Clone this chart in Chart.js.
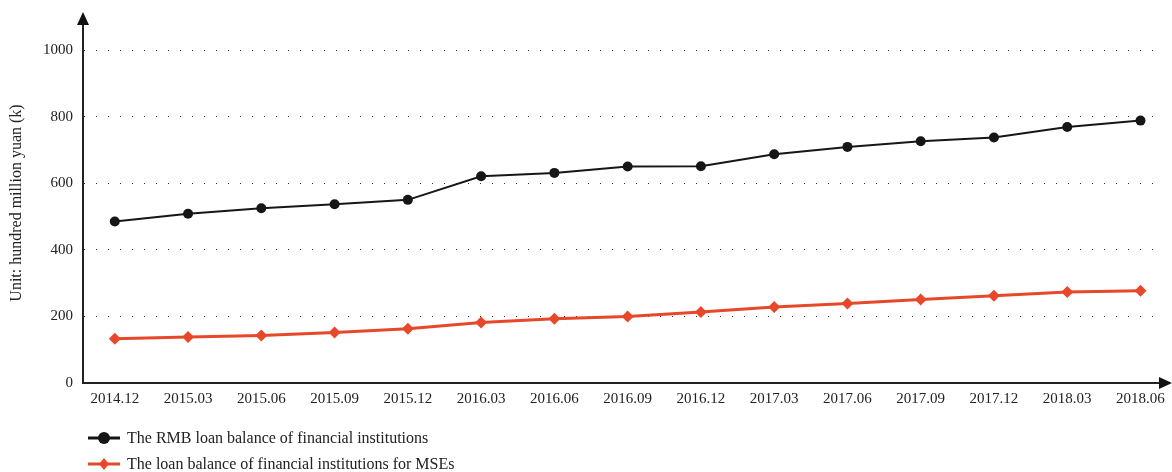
<!DOCTYPE html>
<html>
<head>
<meta charset="utf-8">
<script src="https://cdn.jsdelivr.net/npm/chart.js@4/dist/chart.umd.min.js"></script>
<style>
  html, body { margin: 0; padding: 0; background: #fff; }
  #wrap { position: relative; width: 1172px; height: 472px; }
  #legend { position: absolute; left: 88px; top: 425px; font-family: "Liberation Serif", "DejaVu Serif", serif; font-size: 16px; color: #222; }
  .item { display: flex; align-items: center; height: 26px; }
  .item svg { margin-right: 7px; }
</style>
</head>
<body>
<div id="wrap">
  <canvas id="c" width="1172" height="472"></canvas>
  <div id="legend"></div>
</div>
<script>
const categories = ["2014.12","2015.03","2015.06","2015.09","2015.12","2016.03","2016.06","2016.09","2016.12","2017.03","2017.06","2017.09","2017.12","2018.03","2018.06"];
const rmbLoanBalance = [485, 508, 525, 537, 550, 621, 631, 650, 651, 687, 709, 726, 737, 769, 788];
const mseLoanBalance = [133, 138, 143, 152, 163, 182, 193, 200, 213, 228, 239, 251, 262, 273, 277];
const yTicks = [0, 200, 400, 600, 800, 1000];
const seriesNames = ["The RMB loan balance of financial institutions", "The loan balance of financial institutions for MSEs"];
const yTitle = "Unit: hundred million yuan (k)";

const BLACK = "#161616";
const RED = "#e8482a";
const FONT = '"Liberation Serif", "DejaVu Serif", serif';

const toPoints = arr => arr.map((v, i) => ({ x: i, y: v }));

const decorPlugin = {
  id: "decor",
  afterDraw(chart) {
    const { ctx, chartArea: a } = chart;
    ctx.save();
    ctx.strokeStyle = "#222";
    ctx.fillStyle = "#111";
    ctx.lineWidth = 2;
    // y-axis extension + arrow
    ctx.beginPath();
    ctx.moveTo(a.left, a.top);
    ctx.lineTo(a.left, 22);
    ctx.stroke();
    ctx.beginPath();
    ctx.moveTo(a.left, 12);
    ctx.lineTo(a.left - 6, 25);
    ctx.lineTo(a.left + 6, 25);
    ctx.closePath();
    ctx.fill();
    // x-axis arrow
    ctx.beginPath();
    ctx.moveTo(1172, a.bottom);
    ctx.lineTo(1159, a.bottom - 6);
    ctx.lineTo(1159, a.bottom + 6);
    ctx.closePath();
    ctx.fill();
    // y-axis title
    ctx.translate(17, 203);
    ctx.rotate(-Math.PI / 2);
    ctx.fillStyle = "#222";
    ctx.font = "16px " + FONT;
    ctx.textAlign = "center";
    ctx.textBaseline = "middle";
    ctx.fillText(yTitle, 0, 0);
    ctx.restore();
  }
};

new Chart(document.getElementById("c"), {
  type: "line",
  data: {
    datasets: [
      {
        label: seriesNames[0],
        data: toPoints(rmbLoanBalance),
        borderColor: BLACK,
        backgroundColor: BLACK,
        borderWidth: 2,
        pointStyle: "circle",
        pointRadius: 5,
        pointBackgroundColor: BLACK,
        pointBorderColor: BLACK,
        pointBorderWidth: 0,
        tension: 0
      },
      {
        label: seriesNames[1],
        data: toPoints(mseLoanBalance),
        borderColor: RED,
        backgroundColor: RED,
        borderWidth: 3,
        pointStyle: "rectRot",
        pointRadius: 6,
        pointBackgroundColor: RED,
        pointBorderColor: RED,
        pointBorderWidth: 0,
        tension: 0
      }
    ]
  },
  options: {
    responsive: false,
    animation: false,
    layout: { padding: { top: 50, right: 0, bottom: 54, left: 0 } },
    plugins: { legend: { display: false }, tooltip: { enabled: false } },
    scales: {
      x: {
        type: "linear",
        min: -0.434,
        max: 14.32,
        afterBuildTicks: s => { s.ticks = categories.map((_, i) => ({ value: i })); },
        afterFit: s => { s.height = 35; },
        ticks: {
          autoSkip: false,
          maxRotation: 0,
          padding: 7,
          color: "#222",
          font: { family: FONT, size: 15 },
          callback: v => categories[v]
        },
        grid: { drawOnChartArea: false, drawTicks: false },
        border: { display: true, color: "#222", width: 2 }
      },
      y: {
        type: "linear",
        min: 0,
        max: 1000,
        afterBuildTicks: s => { s.ticks = yTicks.map(v => ({ value: v })); },
        afterFit: s => { s.width = 83; },
        ticks: {
          padding: 10,
          color: "#222",
          font: { family: FONT, size: 15 },
          callback: v => String(v)
        },
        grid: {
          drawTicks: false,
          lineWidth: 1,
          color: c => (c.tick && c.tick.value === 0 ? "rgba(0,0,0,0)" : "#333")
        },
        border: { display: true, color: "#222", width: 2, dash: [1, 11], dashOffset: 0 },
        title: { display: false }
      }
    }
  },
  plugins: [decorPlugin]
});

// HTML legend
const legendEl = document.getElementById("legend");
const symbols = [
  '<svg width="32" height="14"><line x1="0" y1="7" x2="32" y2="7" stroke="' + BLACK + '" stroke-width="3"/><circle cx="16" cy="7" r="6" fill="' + BLACK + '"/></svg>',
  '<svg width="32" height="14"><line x1="0" y1="7" x2="32" y2="7" stroke="' + RED + '" stroke-width="3"/><polygon points="16,1 21,7 16,13 11,7" fill="' + RED + '"/></svg>'
];
seriesNames.forEach((name, i) => {
  const d = document.createElement("div");
  d.className = "item";
  d.innerHTML = symbols[i] + "<span>" + name + "</span>";
  legendEl.appendChild(d);
});
</script>
</body>
</html>
